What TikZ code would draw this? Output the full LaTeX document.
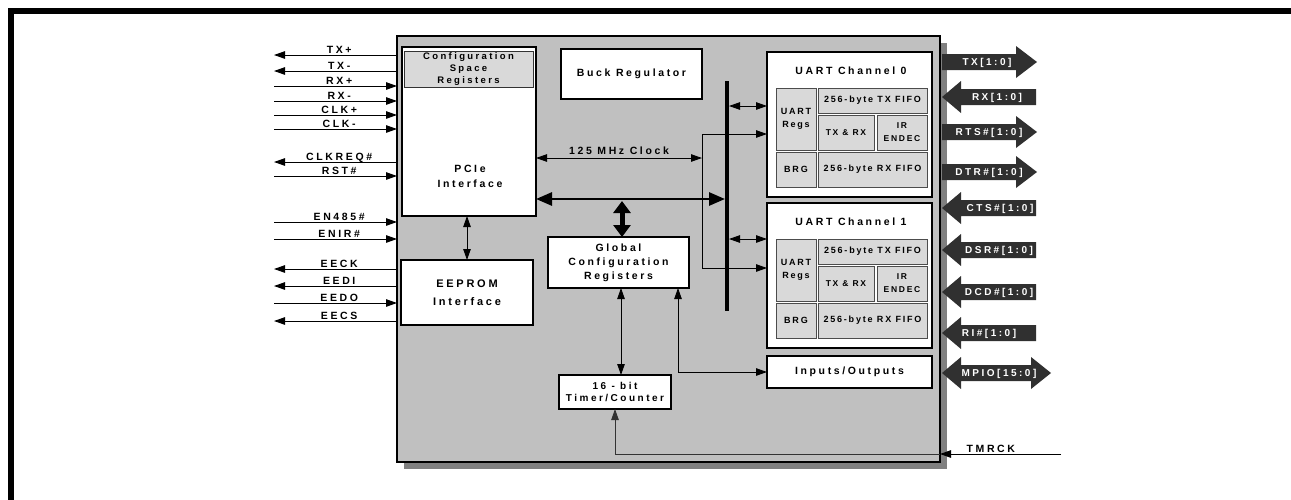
\documentclass[tikz,border=0pt]{standalone}
\usepackage{fontspec}
\setmainfont{Liberation Sans}
\newfontfamily\lsfont{Liberation Sans}[LetterSpace=25]
\newfontfamily\csfont{Liberation Sans}[LetterSpace=20]
\usetikzlibrary{arrows.meta}
\definecolor{chipgray}{HTML}{C0C0C0}
\definecolor{shadowgray}{HTML}{808080}
\definecolor{cellgray}{HTML}{D9D9D9}
\definecolor{arrdark}{HTML}{303030}
\tikzset{
  >={Triangle[length=11pt,width=7.5pt]},
  blk/.style={draw=black, line width=1.3pt, fill=white, inner sep=0pt, outer sep=0pt, align=center, anchor=north west,
    font=\lsfont\bfseries\fontsize{10.5}{14}\selectfont},
  cellbox/.style={draw=black!70, line width=0.9pt, fill=cellgray, inner sep=0pt, outer sep=0pt, align=center, anchor=north west,
    font=\csfont\bfseries\fontsize{9}{13}\selectfont},
  txt/.style={inner sep=0pt, align=center, font=\lsfont\bfseries\fontsize{10.5}{15}\selectfont},
  pinln/.style={line width=1pt, black},
  pinl/.style={above, inner sep=1.5pt, text depth=0pt, font=\lsfont\bfseries\fontsize{10.5}{12}\selectfont},
  sarr/.style={line width=0.9pt, black},
  bigbus/.style={line width=2.8pt, {Triangle[length=16pt,width=13pt]}-{Triangle[length=16pt,width=13pt]}},
  vbus/.style={line width=5pt, {Triangle[length=12pt,width=17pt]}-{Triangle[length=12pt,width=17pt]}},
  blkarr/.style={fill=arrdark},
  arrtxt/.style={text=white, inner sep=0pt, text depth=0pt, font=\lsfont\bfseries\fontsize{10}{11}\selectfont},
}
\begin{document}
\begin{tikzpicture}[x=1pt,y=-1pt]
\useasboundingbox (0,0) rectangle (1291,499);
% outer frame
\draw[line width=6pt, miter limit=10] (11,510) -- (11,11) -- (1300,11);

% chip with shadow
\fill[shadowgray] (404,43) rectangle (947,469);
\node[draw=black, line width=1.5pt, fill=chipgray, inner sep=0pt, outer sep=0pt, anchor=north west,
      minimum width=543pt, minimum height=426pt] (chip) at (397,36) {};
\draw[line width=2.8pt] (chip.north west) -- (chip.south west);

% blocks
\node[blk, minimum width=134pt, minimum height=169pt] (pcie) at (402,47) {};
\node[cellbox, draw=black!80, minimum width=129pt, minimum height=36pt,
      font=\lsfont\bfseries\fontsize{9.5}{12}\selectfont] (csr) at (404,51) {Configuration\\Space\\Registers};
\node[txt] (pcietxt) at (470,176) {PCIe\\Interface};
\node[blk, minimum width=132pt, minimum height=65pt, font=\lsfont\bfseries\fontsize{11}{18}\selectfont] (eep) at (401,260) {EEPROM\\Interface};
\node[blk, minimum width=141pt, minimum height=50pt] (buck) at (561,49) {Buck Regulator};
\node[blk, minimum width=141pt, minimum height=51pt] (gcr) at (548,237) {Global\\Configuration\\Registers};
\node[blk, minimum width=112pt, minimum height=34pt, font=\lsfont\bfseries\fontsize{10}{12.5}\selectfont] (tmr) at (559,375) {16 - bit\\Timer/Counter};
\node[blk, minimum width=165pt, minimum height=32pt] (io) at (767,356) {Inputs/Outputs};

% UART channels
\foreach \n/\t in {0/52,1/203}{
  \node[blk, minimum width=165pt, minimum height=145pt] (u\n) at (767,\t) {};
  \node[txt] (u\n t) at (851,\t+19) {UART Channel \n};
  \node[cellbox, minimum width=40pt, minimum height=62pt] (u\n regs) at (776,\t+36) {UART\\Regs};
  \node[cellbox, minimum width=109pt, minimum height=25pt] (u\n txf) at (818,\t+36) {256-byte TX FIFO};
  \node[cellbox, minimum width=56pt, minimum height=35pt, font=\csfont\bfseries\fontsize{8.5}{13}\selectfont] (u\n txrx) at (818,\t+63) {TX \& RX};
  \node[cellbox, minimum width=50pt, minimum height=35pt, font=\csfont\bfseries\fontsize{8.5}{13}\selectfont] (u\n ir) at (877,\t+63) {IR\\ENDEC};
  \node[cellbox, minimum width=40pt, minimum height=35pt] (u\n brg) at (776,\t+100) {BRG};
  \node[cellbox, minimum width=109pt, minimum height=35pt] (u\n rxf) at (818,\t+100) {256-byte RX FIFO};
}

% internal bus bar
\coordinate (busT) at (727,81);
\coordinate (busB) at (727,311);
\draw[line width=4pt] (busT) -- (busB);

% thick bus from PCIe
\coordinate (busJ) at (725,199);
\draw[bigbus] (pcie.east |- busJ) -- (busJ);
\coordinate (vj) at (622,201);
\draw[vbus] (vj) -- (gcr.north -| vj);

% bus to UARTs
\coordinate (b0) at (729,106);
\coordinate (b1) at (729,239);
\draw[sarr,<->] (b0) -- (b0 -| u0.west);
\draw[sarr,<->] (b1) -- (b1 -| u1.west);

% 125 MHz clock
\coordinate (clk) at (702,158);
\coordinate (ck0) at (702,134);
\coordinate (ck1) at (702,268);
\draw[sarr,<->] (pcie.east |- clk) -- node[txt, above=3pt] (clklbl) {125 MHz Clock} (clk);
\draw[sarr] (ck0) -- (ck1);
\draw[sarr,->] (ck0) -- (ck0 -| u0.west);
\draw[sarr,->] (ck1) -- (ck1 -| u1.west);

% PCIe <-> EEPROM
\coordinate (pe) at (467,0);
\draw[sarr,<->] (pcie.south -| pe) -- (eep.north -| pe);

% GCR <-> Timer, GCR <-> IO
\coordinate (gt) at (621,0);
\draw[sarr,<->] (gcr.south -| gt) -- (tmr.north -| gt);
\coordinate (gi) at (678,0);
\draw[sarr,<->] (gcr.south -| gi) |- (io.west);

% TMRCK
\coordinate (tmrck) at (1061,454);
\draw[pinln,->] (tmrck) -- node[pinl, pos=0.58] (tmrcklbl) {TMRCK} (chip.east |- tmrck);
\draw[sarr, black!80, ->] (chip.east |- tmrck) -| (tmr.south);

% left pins
\foreach \yy/\nm/\lb/\dir in {55/ptxp/{TX+}/<-, 71/ptxm/{TX-}/<-, 86/prxp/{RX+}/->, 101/prxm/{RX-}/->,
    115/pclkp/{CLK+}/->, 129/pclkm/{CLK-}/->, 162/pclkreq/{CLKREQ\#}/<-, 176/prst/{RST\#}/->,
    222/pen485/{EN485\#}/->, 239/penir/{ENIR\#}/->, 269/peeck/{EECK}/<-, 286/peedi/{EEDI}/<-,
    303/peedo/{EEDO}/->, 321/peecs/{EECS}/<-}{
  \coordinate (\nm) at (274,\yy);
  \draw[pinln,\dir] (\nm) -- node[pinl, pos=0.53] (\nm lbl) {\lb} (\nm -| chip.west);
}

% right block arrows (pointing out)
\foreach \yy/\xx/\tx in {62/987/{TX[1:0]}, 132/989/{RTS\#[1:0]}, 172/989/{DTR\#[1:0]}}{
  \fill[blkarr] (942,\yy-8) -- (1016,\yy-8) -- (1016,\yy-16) -- (1037,\yy) -- (1016,\yy+16) -- (1016,\yy+8) -- (942,\yy+8) -- cycle;
  \node[arrtxt] (ra\yy) at (\xx,\yy) {\tx};
}
% right block arrows (pointing in)
\foreach \yy/\xx/\tx in {97/997/{RX[1:0]}, 208/1000/{CTS\#[1:0]}, 250/999/{DSR\#[1:0]}, 292/999/{DCD\#[1:0]}, 333/989/{RI\#[1:0]}}{
  \fill[blkarr] (942,\yy) -- (961,\yy-16) -- (961,\yy-8) -- (1036,\yy-8) -- (1036,\yy+8) -- (961,\yy+8) -- (961,\yy+16) -- cycle;
  \node[arrtxt] (la\yy) at (\xx,\yy) {\tx};
}
% MPIO double arrow
\fill[blkarr] (942,373) -- (961,357) -- (961,365) -- (1031,365) -- (1031,357) -- (1051,373) -- (1031,389) -- (1031,381) -- (961,381) -- (961,389) -- cycle;
\node[arrtxt] (mpio) at (999,373) {MPIO[15:0]};
\end{tikzpicture}
\end{document}
